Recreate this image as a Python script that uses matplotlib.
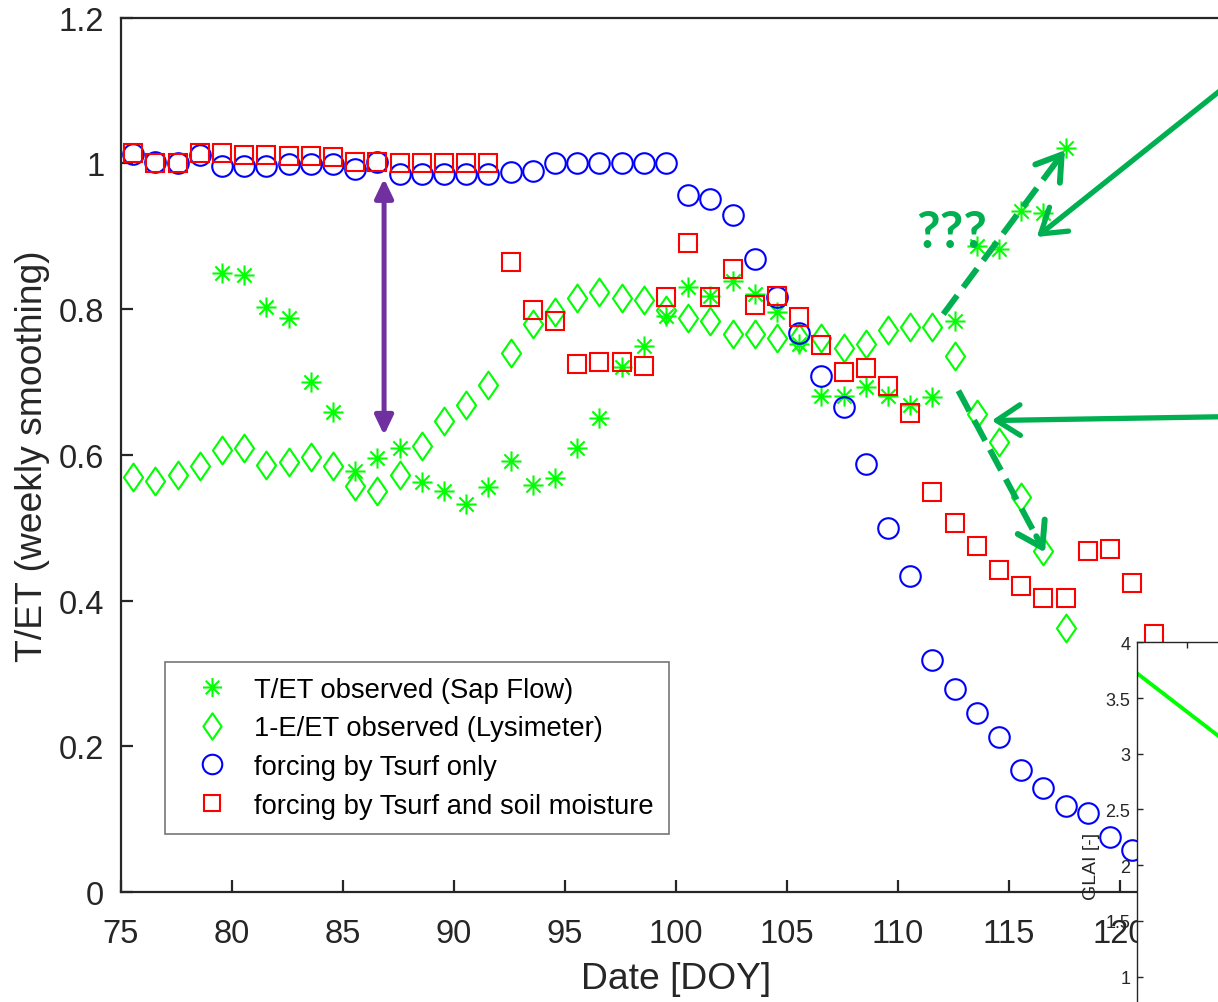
"""T/ET observations vs. model forcing, with GLAI inset."""

import matplotlib
matplotlib.use('Agg')
import matplotlib.pyplot as plt
import numpy as np
from matplotlib.patches import ArrowStyle, FancyArrowPatch
from matplotlib.path import Path
from matplotlib.ticker import FormatStrFormatter, MultipleLocator

plt.rcParams['font.family'] = ['Liberation Sans', 'DejaVu Sans']

# ---- data ----
sap_start = 79.55
sap_flow = [0.850, 0.847, 0.803, 0.788, 0.700, 0.659, 0.578, 0.596, 0.610, 0.563,
            0.550, 0.533, 0.556, 0.591, 0.559, 0.568, 0.610, 0.651, 0.721, 0.749,
            0.791, 0.830, 0.818, 0.838, 0.821, 0.796, 0.752, 0.681, 0.681, 0.693,
            0.681, 0.669, 0.680, 0.783, 0.887, 0.883, 0.934, 0.932, 1.021]

lys_start = 75.55
lysimeter = [0.569, 0.564, 0.572, 0.584, 0.606, 0.609, 0.586, 0.590, 0.597, 0.585,
             0.557, 0.550, 0.572, 0.612, 0.646, 0.668, 0.696, 0.740, 0.780, 0.796,
             0.815, 0.823, 0.815, 0.813, 0.799, 0.788, 0.784, 0.766, 0.766, 0.760,
             0.760, 0.760, 0.747, 0.752, 0.771, 0.775, 0.775, 0.736, 0.656, 0.618,
             0.542, 0.468, 0.362]

tsurf_start = 75.55
tsurf_only = [1.013, 1.002, 1.000, 1.011, 0.997, 0.997, 0.997, 0.999, 0.999, 0.999,
              0.992, 1.002, 0.986, 0.986, 0.986, 0.986, 0.986, 0.988, 0.989, 1.000,
              1.000, 1.000, 1.000, 1.000, 1.000, 0.957, 0.951, 0.929, 0.869, 0.816,
              0.767, 0.708, 0.666, 0.587, 0.500, 0.433, 0.318, 0.278, 0.245, 0.213,
              0.168, 0.143, 0.118, 0.108, 0.075, 0.058]

soil_start = 75.55
tsurf_soil = [1.014, 1.001, 1.000, 1.014, 1.014, 1.012, 1.012, 1.010, 1.010, 1.009,
              1.002, 1.002, 1.001, 1.000, 1.000, 1.000, 1.000, 0.864, 0.799, 0.783,
              0.724, 0.727, 0.728, 0.722, 0.816, 0.891, 0.816, 0.855, 0.806, 0.818,
              0.789, 0.751, 0.713, 0.719, 0.695, 0.658, 0.549, 0.506, 0.475, 0.442,
              0.420, 0.404, 0.404, 0.468, 0.471, 0.424, 0.354]

glai_x = [70.0, 86.2]
glai_y = [3.72, 3.16]

labels = ['T/ET observed (Sap Flow)', '1-E/ET observed (Lysimeter)',
          'forcing by Tsurf only', 'forcing by Tsurf and soil moisture']

x_ticks = [75, 80, 85, 90, 95, 100, 105, 110, 115, 120]
glai_ticks = [1, 1.5, 2, 2.5, 3, 3.5, 4]

TXT = '#262626'
ARROW_GREEN = '#00b050'
PURPLE = '#7030a0'


def days(start, values):
    return start + np.arange(len(values))


# MATLAB-like '*' and 'd' markers
d = 0.7071
star = Path([(-1, 0), (1, 0), (0, -1), (0, 1), (-d, -d), (d, d), (-d, d), (d, -d)],
            [Path.MOVETO, Path.LINETO] * 4)
diamond = Path([(0, 1), (0.69, 0), (0, -1), (-0.69, 0), (0, 1)],
               [Path.MOVETO, Path.LINETO, Path.LINETO, Path.LINETO, Path.CLOSEPOLY])

W, H = 1218, 1003
fig = plt.figure(figsize=(W / 100, H / 100), dpi=100)
ax = fig.add_axes([121 / W, (H - 893) / H, 1110 / W, (893 - 18.6) / H])

mew = 1.5
ax.plot(days(sap_start, sap_flow), sap_flow, ls='none', marker=star, ms=14.5,
        mec='#00ff00', mfc='none', mew=mew, label=labels[0])
ax.plot(days(lys_start, lysimeter), lysimeter, ls='none', marker=diamond, ms=20,
        mec='#00ff00', mfc='none', mew=mew, label=labels[1])
ax.plot(days(tsurf_start, tsurf_only), tsurf_only, ls='none', marker='o', ms=14.8,
        mec='#0000ff', mfc='none', mew=mew, label=labels[2])
ax.plot(days(soil_start, tsurf_soil), tsurf_soil, ls='none', marker='s', ms=12.8,
        mec='#ff0000', mfc='none', mew=mew, label=labels[3])

ax.set_xlim(75, 125)
ax.set_ylim(0, 1.2)
ax.set_xticks(x_ticks)
ax.yaxis.set_major_locator(MultipleLocator(0.2))
ax.yaxis.set_major_formatter(FormatStrFormatter('%g'))
ax.tick_params(direction='in', length=8.6, width=1.6, labelsize=23.5,
               colors=TXT, top=False, right=False)
ax.tick_params(axis='x', pad=18.5)
ax.tick_params(axis='y', pad=12)
for side in ['left', 'bottom', 'top']:
    ax.spines[side].set_linewidth(1.6)
    ax.spines[side].set_color(TXT)
ax.spines['right'].set_visible(False)
ax.set_xlabel('Date [DOY]', fontsize=26.8, color=TXT, labelpad=9)
ax.set_ylabel('T/ET (weekly smoothing)', fontsize=26.8, color=TXT, labelpad=6)

leg = ax.legend(loc='upper left', bbox_to_anchor=(165 / W, (H - 662.7) / H),
                bbox_transform=fig.transFigure, borderaxespad=0, fontsize=19.7,
                frameon=True, fancybox=False, borderpad=0.55, handlelength=2.35,
                handletextpad=0.35, labelspacing=0.46, markerscale=0.95)
leg.get_frame().set_edgecolor('#555555')
leg.get_frame().set_linewidth(1.2)
for t in leg.get_texts():
    t.set_color('black')

# ---- annotations ----
# purple double arrow
ax.add_patch(FancyArrowPatch((86.85, 0.979), (86.85, 0.627),
                             arrowstyle=ArrowStyle('<|-|>', head_length=1.15, head_width=0.55),
                             mutation_scale=10, lw=3.6, color=PURPLE,
                             shrinkA=0, shrinkB=0, zorder=6))

head = ArrowStyle('->', head_length=1.7, head_width=1.1)


def green_arrow(start, tip, dashed=False):
    lw = 4.3 if dashed else 3.8
    if dashed:
        # dashed shaft, solid open head
        frac = 0.9
        mid = (start[0] + frac * (tip[0] - start[0]), start[1] + frac * (tip[1] - start[1]))
        ax.plot([start[0], mid[0]], [start[1], mid[1]], color=ARROW_GREEN, lw=lw,
                dashes=(3.9, 1.7), dash_capstyle='butt', zorder=6, clip_on=False)
        start = mid
    ax.add_patch(FancyArrowPatch(start, tip, arrowstyle=head, mutation_scale=10,
                                 lw=lw, color=ARROW_GREEN, shrinkA=0, shrinkB=0,
                                 capstyle='round', joinstyle='round',
                                 zorder=6, clip_on=False))


green_arrow((112.04, 0.793), (117.52, 1.018), dashed=True)
green_arrow((112.72, 0.688), (116.62, 0.466), dashed=True)
green_arrow((128.1, 1.187), (116.25, 0.899))
green_arrow((128.1, 0.654), (114.22, 0.647))

ax.text(112.42, 0.905, '???', ha='center', va='center', fontsize=37,
        fontweight='bold', color=ARROW_GREEN, family=['Lato', 'DejaVu Sans'], zorder=6)

# ---- GLAI inset ----
ax_in = fig.add_axes([1137.3 / W, (H - 1088.9) / H, 400 / W, 445.6 / H])
ax_in.plot(glai_x, glai_y, color='#00ff00', lw=2.8)
ax_in.set_xlim(70, 150)
ax_in.set_ylim(0, 4)
ax_in.set_xticks([80, 100, 120, 140])
ax_in.set_yticks(glai_ticks)
ax_in.yaxis.set_major_formatter(FormatStrFormatter('%g'))
ax_in.tick_params(direction='in', length=4, width=1.0, labelsize=13,
                  colors=TXT, top=True, right=True, pad=5, labelbottom=False)
for s in ax_in.spines.values():
    s.set_linewidth(1.0)
    s.set_color(TXT)
ax_in.set_ylabel('GLAI [-]', fontsize=14, color=TXT, labelpad=4)

fig.savefig('out.png', dpi=100)
